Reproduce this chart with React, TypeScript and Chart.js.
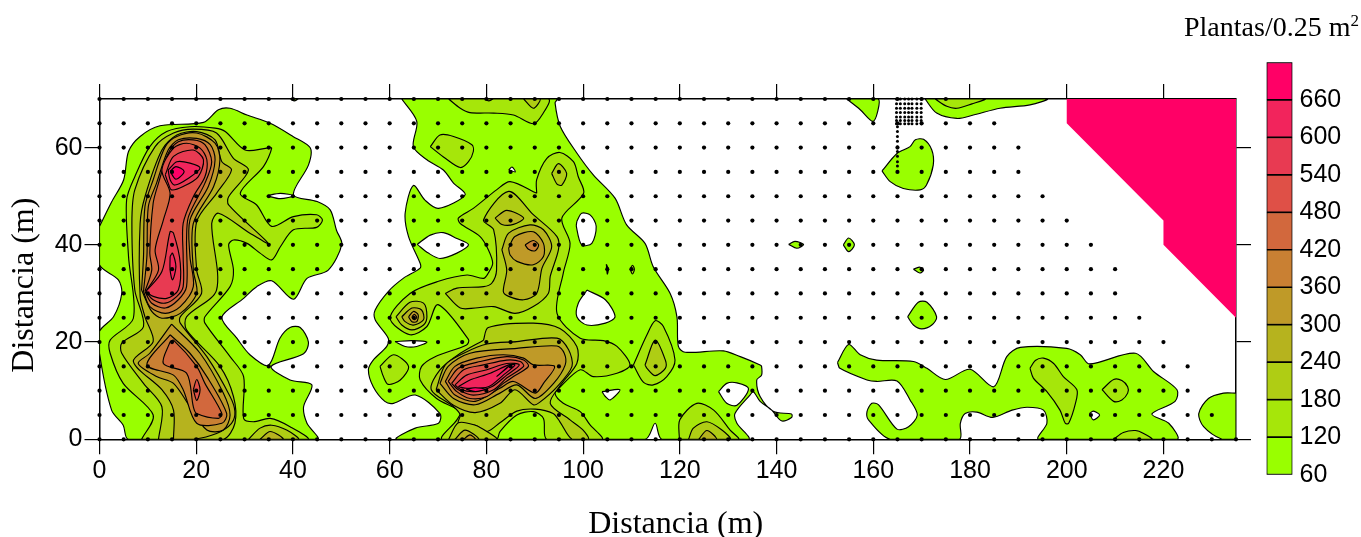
import React, { useEffect, useRef } from "react";
import { Chart, registerables } from "chart.js";

Chart.register(...registerables);

type Pt = [number, number];

const bandLevels = [60, 120, 180, 240, 300, 360, 420, 480, 540, 600, 660, 720];
const bandColors = ["#99FF00", "#A6E60A", "#AFCD14", "#B6B31E", "#BF9A28", "#C98033", "#D2683D", "#DF5047", "#E83A52", "#F2245C", "#FF0066"];
const xAxisTitle = "  Distancia (m)";
const yAxisTitle = "Distancia (m)    ";
const legendTitle = "Plantas/0.25 m";
const xTicks = [0, 20, 40, 60, 80, 100, 120, 140, 160, 180, 200, 220];
const yTicks = [0, 20, 40, 60];

const gridRows = [0, 5, 10, 15, 20, 25, 30, 35, 40, 45, 50, 55, 60, 65, 70];
const gridRowLastX = [235, 230, 225, 225, 220, 215, 210, 210, 205, 200, 195, 190, 190, 185, 175];
const denseXs = [164.8, 165.6, 166.5, 167.3, 168, 169, 169.9];
const denseYs = [70, 69, 68.1, 67.2, 66.3, 65.6, 64.9];
const denseColumnYs = [64.3, 63.3, 62.3, 61.3, 60.2, 59.2, 58.2, 57.1, 56.2];

const band60: Pt[][] = [
  [[0,43.8],[2.5,48.8],[5,53.4],[6,59.2],[8.4,62.3],[12.5,64.5],[21.5,65.2],[24.6,67.8],[27,68.1],[30.5,66.7],[35.3,65],[40,62.3],[43.6,59.9],[43.2,56.4],[40.1,50.3],[45,48.9],[47.7,47.2],[49,43],[50.1,40.1],[47.3,34.8],[42.9,33.1],[40.1,28.8],[35.6,32.6],[32.5,31.4],[29.8,29],[25.3,25.1],[28.4,20.8],[31.1,17.4],[34.9,15.2],[37.3,20.8],[39.4,23],[41.5,23],[43.2,20],[42.2,17.6],[35.5,15],[39.4,12.2],[43.9,11.2],[42.2,6.7],[42.9,3.3],[45,0],[6,0],[4.9,2.9],[2.5,6],[0,17.7],[0,22.2],[2.9,25.2],[4.6,30],[3.9,32.8],[0,35.9]],
  [[39.5,70],[40.3,69.6],[41,70]],
  [[62.5,70],[65.6,65.4],[64.9,60.2],[67.7,57.5],[71.1,55.4],[73.2,52.7],[75.6,50.3],[70.1,47.5],[67.3,49.2],[64.9,52.2],[63.2,46.5],[63.9,41.7],[66.3,36.2],[66.3,35.2],[62.8,33.1],[59.7,30.4],[57,26.6],[57,24.6],[59.7,20.8],[59.4,19.1],[56.6,16.3],[55.6,14.3],[56.6,10.8],[59,7.8],[60.8,7.4],[65.3,9.1],[70.4,5.3],[70.1,3.3],[65.3,2.3],[61.5,0],[112.8,0],[114.9,3.3],[116.3,0],[134.2,0],[131.8,3.3],[131.4,5.3],[134.5,9.1],[135.2,9.8],[136.6,7.8],[139,6],[141,3.8],[143.1,4.5],[143.1,5.2],[139.4,5.7],[136.6,8.8],[135.9,12.2],[136.9,13.2],[136.9,15],[136.6,15.3],[132.5,17],[129,18.2],[121.1,17.9],[119.7,19.1],[119.4,25.2],[118,30],[114.5,35.5],[112.8,40.3],[109,44.1],[106.6,49.6],[102.1,54.4],[98.7,58.9],[95.3,64.3],[94.2,69.2],[94.6,70]],
  [[154.5,70],[157.3,67.8],[159.9,65.4],[160.9,67.4],[161,70]],
  [[161.8,55.2],[164.9,58.8],[167.6,60.2],[168.7,61.6],[170.4,61.7],[172.1,59.5],[172.4,56.4],[171,52.3],[169.7,51.3],[166.2,51.6],[163.5,53]],
  [[170.7,70],[173.1,67.1],[177.3,66],[180.7,66.7],[186.2,68.1],[192.4,68.8],[195.9,70]],
  [[142.5,40.1],[143.8,40.7],[145.6,40.1],[144.2,39.3]],
  [[153.8,40],[154.9,41.4],[156.1,40],[154.9,38.6]],
  [[168.3,35],[169.7,35.4],[170.4,34.8],[169.6,34.2]],
  [[167.1,25.2],[169.3,28.2],[171.1,28.2],[173.1,25.2],[172.1,23.5],[170,22.7],[168.3,23.5]],
  [[152.6,15.8],[154.9,19.5],[157.3,17.4],[160.7,16.3],[168.3,16],[171.1,14.6],[174.9,12.3],[180,14.4],[184.9,10.8],[187.6,17],[190.4,18.9],[200,18.7],[202.8,17.4],[204.7,15.5],[214.2,17.7],[218,13.9],[222.8,10.2],[222.4,7.8],[217.6,5.2],[221.1,3.3],[222.8,0],[194.2,0],[195.9,3.3],[195.2,6],[191.8,6.6],[188.7,6],[184.7,4.5],[181.4,5.6],[179,5.3],[178,3.3],[177.8,0],[163.5,0],[159,4],[158.7,5.7],[159.7,7.4],[161.1,7.1],[164.9,2.1],[167.3,2.6],[169.1,5],[167.6,8.1],[164.9,12],[160.7,11.9],[158.7,12.2],[153.1,14.6]],
  [[235,9.5],[232.4,9.5],[229.3,8.4],[227.3,5.3],[228.3,2.6],[232.1,0],[235,0]],
];

const emptyHoles: Pt[][] = [
  [[34.6,50.1],[37.4,50.6],[40.1,50.1],[37.4,49.5]],
  [[84.6,55.4],[85.3,56],[86,55]],
  [[98.7,44.8],[99.7,46.5],[101.5,46.1],[102.7,43.8],[101.8,40.3],[99.7,40],[98.6,43.8]],
  [[65.7,40.1],[68.4,42],[71.1,42.5],[73.9,41.3],[76.3,40],[73.9,38.3],[70.4,37.2],[68,38.3]],
  [[100.8,30.7],[104.6,28.7],[106.6,25.2],[104.6,23.9],[100.8,23.5],[98.7,25.2],[99,28]],
  [[61.1,20.1],[64.6,20.3],[67.7,20],[65.6,19.1],[63.2,19.1]],
  [[103.9,9.8],[107.6,10.2],[105.6,8.1],[104.6,8.8]],
  [[128,9.8],[129.7,11.5],[131.8,11.6],[134.2,10.4],[131.8,7],[129.7,7.4]],
  [[204.7,5.3],[205.5,5.8],[206.8,5],[205.5,4]],
];

const band120: Pt[][] = [
  [[8.7,0],[11.1,5],[4.9,11.5],[2.2,17.7],[2.2,20.4],[7,24.9],[6,37.6],[5.6,49.2],[7.3,54],[10.4,60.2],[13.9,63.3],[18.7,64.3],[23.9,64],[26,63.3],[30.1,59.5],[34.6,59.9],[35.6,59.9],[33.9,56.1],[29.1,50.6],[32.5,48.2],[35.6,43.8],[40.1,45.8],[44.9,46.2],[46.1,45.1],[44.9,43.6],[40.1,43.1],[37.4,39.6],[35.6,36.9],[33.2,38.3],[30.5,40.3],[27.7,41],[26.7,40],[27.7,34.8],[27,31.4],[21.8,25.2],[21.8,23.9],[27,17],[29.8,12.9],[29.8,4.3],[31.8,3.6],[35.3,4.3],[39.4,2.6],[43,0]],
  [[72.2,70],[74.6,68.1],[76.6,67.2],[81.5,67.1],[85.6,66.7],[89.7,64.9],[91.5,66.7],[92.8,70]],
  [[68.4,60.2],[70.4,62.6],[73.2,62.3],[77,60.6],[77.3,59.2],[76.3,57.1],[74.6,55.9],[71.5,57.8]],
  [[90.4,50.6],[84.9,53],[82.1,51.3],[77.3,47.5],[74.2,45.5],[74.6,44.4],[78.7,41.7],[80.4,39],[81.3,36.2],[80.4,34.2],[79.4,33.1],[76,33.8],[70.1,32.5],[64.2,30],[60.1,24.9],[64.2,21.5],[67.7,23.2],[70,27.7],[76.3,20.5],[75.9,19.4],[69.4,17],[66.6,15],[66.3,12.2],[69.7,8.4],[74.6,5.7],[73.9,4],[70.8,0],[82.1,0],[82.8,1.6],[86.3,5],[89.7,5.7],[91.8,4.3],[92.5,0],[103.9,0],[101.4,3],[99.4,5.7],[95.9,7.4],[94.2,9.4],[95.2,10.7],[99.4,14.3],[102.1,12.9],[107,13.6],[109.7,15.3],[107,19.1],[104.2,20.3],[99.4,20.8],[94.6,25.9],[95.9,34.2],[97.3,40.3],[95.6,45.5],[100.1,50.6],[99,54],[98,57.1],[95.2,59],[92.5,57.8],[90.4,53.4]],
  [[58,15],[60.8,17.4],[63.9,15],[62.2,12.2],[59.7,11.3],[58.7,12.9]],
  [[110.4,15.3],[113.2,21.5],[114.9,24.4],[116.6,23.2],[119,16.3],[117.3,12.9],[114.5,11.2],[112.5,11.7]],
  [[119.9,0],[120,4],[123.5,7.4],[127,6],[130.4,1.9],[132.1,0]],
  [[172.8,70],[175.2,68.5],[177.3,68.1],[180.4,69],[183.1,70]],
  [[192.4,14.6],[193.5,16.2],[195.2,16.7],[197.3,15.6],[199.3,12.9],[202.1,10.2],[201.8,7.4],[200.4,3.3],[199.7,3.3],[198.6,6],[195.9,9.8],[193.1,12.6]],
  [[207.3,10.2],[209.7,12.3],[211.4,12.1],[212.6,10.8],[212.6,9.5],[211.4,8.1],[209.7,7.8]],
  [[209.7,0],[211.7,1.4],[214.2,1.8],[215.9,1.2],[217.6,0]],
  [[104.8,36],[105.2,35],[105,34]],
  [[109.7,35],[110.2,35.8],[110.6,35],[110.2,34]],
];

const band180: Pt[][] = [
  [[12.2,0],[12.9,6.7],[9.1,11.5],[4.6,17.7],[4.6,19.8],[9.1,23.2],[7.3,30.7],[6.7,44.4],[7.3,51.3],[11.5,60.2],[15.3,63],[19.4,63.8],[24.2,63],[27.7,57.8],[30.8,55.4],[26.7,49.9],[26.7,48.2],[34.9,40.3],[31.1,42.4],[24.6,46.5],[23.2,44.4],[24.2,30.7],[18,25.2],[18,22.5],[24.9,15],[27.7,8.8],[28,3.3],[25.6,0]],
  [[30.8,0],[33.2,2.3],[35.6,2.9],[38.7,1.9],[41.1,0]],
  [[87.7,70],[89.7,68.1],[91.1,70]],
  [[79.8,70],[80.5,69.6],[81.3,70]],
  [[71.5,30],[73.9,31.1],[79.4,31.4],[81.1,32.1],[82.1,34.8],[81.5,43.1],[79.4,45.1],[84.6,51],[89.7,46.2],[94.6,41.7],[94.9,39],[93.2,33.5],[92.8,30],[89.7,27.3],[85.9,25.9],[81.5,27.3],[77.7,27],[74.6,27]],
  [[93.5,54.7],[94.9,56.7],[96.6,54.7],[95.6,52.3],[94.6,52.5]],
  [[61.3,25.2],[64.2,28.2],[67,28],[67.7,25.2],[67,23.5],[64.6,22.5],[62.5,23.5]],
  [[112.8,15.3],[114.9,20.4],[117,16.3],[117,14.6],[114.9,13.1],[113.2,14.6]],
  [[121.8,0],[122.8,2.3],[125.6,3.6],[128.7,1.9],[130.4,0]],
  [[79.4,20.4],[80.4,23],[89.7,23.9],[95.2,22.8],[98.7,19.1],[98.7,15.6],[95.6,11.5],[93.2,7.4],[97.3,4],[100,1.9],[101.1,0],[97.7,0],[95.2,3.6],[93.8,5.3],[90.1,6.2],[86.3,5.8],[82.8,3.4],[80.1,1.6],[77.7,2.9],[74.2,3.4],[74.6,5],[73.2,6.7],[68.6,10.2],[70.4,14.3],[74.6,17.7]],
  [[72.2,0],[74.2,3.4],[77.7,2.9],[80.1,1.6],[82.1,0]],
];

const band240: Pt[][] = [
  [[15.3,0],[15.3,6],[12.9,10.2],[7,16],[11.1,20.1],[9.4,25.2],[8.4,29.4],[8.4,44.4],[9.4,49.9],[12.9,59.5],[16,62.6],[20.1,63.3],[23.9,61.6],[25.3,57.1],[27.3,55.4],[24.2,50.6],[20.1,44.8],[20.1,34.8],[21.1,30],[16.7,25.2],[16.7,23.9],[22.2,17],[27,8.8],[28,5.7],[27.3,3.3],[24.2,1.2],[19.4,0]],
  [[33.2,0],[35.3,1.6],[38,0]],
  [[81.8,45.5],[84.2,47.1],[87.7,45.5],[85.6,44.2],[83.2,44.2]],
  [[83.2,39],[84.6,42.4],[89,44.1],[91.8,43.1],[93.5,39.6],[91.5,35.2],[90.4,30],[87.7,28.7],[84.6,29.4],[83.5,30.4],[84.2,34.8]],
  [[62.5,25.2],[64.6,27],[66.6,26.6],[67,24.6],[64.9,23.5],[63.2,24.2]],
  [[69.6,10.2],[71.5,15.3],[75.3,17.7],[80.1,19.6],[86.3,20.1],[94.6,20.8],[97,18.4],[97.7,15],[94.6,10.8],[91,7.6],[89.7,7.1],[85.9,10.2],[82.8,7.4],[77.7,5.5],[73.2,7]],
  [[73.5,0],[75.6,1.9],[78.4,0]],
  [[123.9,0],[125.6,1.8],[127.6,0]],
];

const band300: Pt[][] = [
  [[14.9,23.7],[10.4,17.7],[8,15.6],[11.8,12.9],[15.3,11.5],[18.7,6.7],[22.2,1.9],[25.6,1.9],[27,5],[25.6,9.5],[20.8,17.7]],
  [[8.7,30.7],[10.8,26.3],[12.9,24.9],[16.7,25.9],[20.1,30],[19.4,34.8],[19.4,44.4],[23.6,52],[24.9,57.5],[23.9,60.9],[20.1,63],[16,62.3],[13.6,60.2],[11.1,53.4],[9.4,47.9],[9.1,37.6]],
  [[84.6,39.3],[85.9,41.7],[89.7,42.7],[91.8,40.3],[91.8,37.6],[89.7,35.9],[86.3,36.6],[84.9,37.9]],
  [[63.9,25.2],[64.9,26.3],[65.9,25.6],[65.6,24.2],[64.6,24.2]],
  [[70.4,11.5],[72.1,15],[76.6,17.7],[86.3,18.7],[94.6,19.2],[96.1,17.7],[96.3,15.3],[93.9,11.5],[90.1,8.4],[86.3,11.2],[82.8,9.5],[77.7,7.1],[73.2,8.4]],
  [[75.3,0],[76.6,0.9],[77.7,0]],
];

const band360: Pt[][] = [
  [[14.6,21.5],[9.8,15.3],[15.3,13.2],[17.3,10.2],[20.1,3.3],[25.3,3.3],[26.3,5.3],[22.2,12.9],[18.7,17.7]],
  [[9.1,30.4],[10.4,27.3],[13.6,25.9],[16.7,27.3],[19.4,31.4],[18.7,37.6],[18.7,45.1],[22.5,52],[23.9,57.5],[22.9,60.6],[20.1,61.9],[16.3,61.6],[14.2,59.5],[11.8,52.7],[10.1,47.9],[9.8,37.6]],
  [[88,40],[89.7,40.9],[90.8,40],[90.1,38.8],[88.7,39.1]],
  [[64.6,25.2],[65.1,25.7],[65.6,25.1],[65.1,24.6]],
  [[71.5,11.9],[73.5,15],[78,16.7],[83.5,17.4],[87.7,16.7],[89.7,15.3],[94.1,15],[91.8,11.5],[90.1,9.5],[85.6,11.9],[82.8,10.5],[77.7,7.8],[73.5,9.1]],
];

const band420: Pt[][] = [
  [[14.6,20.1],[13.2,15.6],[18,13.6],[19.4,6.7],[20.1,5.3],[24.6,4.3],[25.3,5.3],[21.8,11.5],[20.1,15],[15.3,20.4]],
  [[9.4,30.4],[10.8,28],[13.6,27],[16.3,28.7],[18,31.4],[18,41],[18.4,45.8],[21.8,52.7],[23.2,57.1],[21.8,60.6],[19.4,61.6],[16.3,61.2],[14.2,58.8],[12.2,52.7],[11.1,48.6],[10.4,38.3],[10.8,34.8]],
  [[72.1,11.9],[74.2,14.6],[78.7,16],[84.2,17],[87.7,16.3],[88.7,15],[85.6,12.9],[83.5,11.5],[80.1,8.8],[76.6,8.4],[73.9,9.8]],
];

const band480: Pt[][] = [
  [[19.4,10.2],[20.1,12.3],[20.8,10.2],[20.1,8]],
  [[9.6,30.4],[11.1,28.7],[13.6,28],[16,29.4],[17.3,31.4],[17.3,37.6],[17.3,44.4],[19.4,49.9],[21.8,54],[22.2,57.5],[20.8,59.9],[18,60.9],[15.3,59.9],[12.9,55.4],[14.6,50.6],[13.2,45.1],[11.5,39],[12.2,34.8]],
  [[72.8,11.5],[75.3,14.3],[79.4,15.3],[84.2,16.3],[87,16],[87.7,15],[84.2,12.6],[81.5,10.2],[77.3,9.1],[74.2,10.2]],
];

const band540: Pt[][] = [
  [[13.6,54.4],[15.3,58.2],[19.4,59.5],[21.5,57.5],[20.4,54],[17.3,52],[14.9,51.3],[14.2,52.7]],
  [[9.6,30.4],[12.9,34.5],[14.6,42.7],[15.3,42.4],[16.7,36.2],[16.3,30.7],[13.9,29],[11.1,29.4]],
  [[73.5,11.2],[75.9,13.2],[80.1,14.3],[84.2,15.6],[86.8,15.3],[84.2,13.2],[81.1,10.8],[77.3,9.8],[74.6,10.3]],
];

const band600: Pt[][] = [
  [[14.2,55.4],[16,57.1],[18.7,56.8],[20.8,55.8],[18.4,53.7],[15.6,52.3],[14.6,53.4]],
  [[14.6,37.6],[15.1,38.3],[15.8,35.5],[15.1,32.8],[14.6,34.8]],
  [[74.2,10.8],[76.6,12.2],[80.8,13.6],[84.6,15.3],[85.9,15.3],[83.5,13.2],[80.4,10.8],[76,10.5]],
];

const band660: Pt[][] = [
  [[14.6,55.1],[15.8,56.1],[17.5,55.1],[15.8,53.5]],
  [[75.8,10.3],[77.7,10.6],[79.7,10.3],[77.7,9.8]],
  [[82.1,12.9],[84.9,15.3],[84.2,14.6]],
];

const blankedCorner: Pt[] = [[200,70],[235,70],[235,25],[220,40],[220,45],[200,65]];

const levelBands = [band60, emptyHoles, band120, band180, band240, band300, band360, band420, band480, band540, band600, band660];
const levelFills = ["#99FF00", "#FFFFFF", ...bandColors.slice(1)];

const SERIF = '"Liberation Serif"';
const SANS = '"Liberation Sans"';

function polygonDataset(pts: Pt[], fill: string, stroke: boolean, tension: number) {
  const closed = [...pts, pts[0]];
  return {
    type: "line" as const,
    data: closed.map(([x, y]) => ({ x, y })),
    showLine: true,
    fill: "shape",
    backgroundColor: fill,
    borderColor: stroke ? "#000" : fill,
    borderWidth: stroke ? 1.15 : 0,
    tension,
    pointRadius: 0,
    pointHoverRadius: 0,
  };
}

export default function App() {
  const mainRef = useRef<HTMLCanvasElement>(null);
  const barRef = useRef<HTMLCanvasElement>(null);

  useEffect(() => {
    const polys: any[] = [];
    levelBands.forEach((band, i) => band.forEach((p) => polys.push(polygonDataset(p, levelFills[i], true, 0.3))));
    polys.push(polygonDataset(blankedCorner, "#FF0066", false, 0));

    const gridDots: { x: number; y: number }[] = [];
    gridRows.forEach((y, r) => {
      for (let x = 0; x <= gridRowLastX[r]; x += 5) gridDots.push({ x, y });
    });
    const denseDots: { x: number; y: number }[] = [];
    denseYs.forEach((y) => denseXs.forEach((x) => denseDots.push({ x, y })));
    denseColumnYs.forEach((y) => denseDots.push({ x: 165, y }));

    const n = polys.length;
    polys.forEach((d, i) => (d.order = n + 5 - i));

    const keepTicks = (values: number[]) => (scale: any) => {
      scale.ticks = values.map((value) => ({ value }));
    };
    const line = { color: "#000", width: 1.5 };
    const grid = { drawOnChartArea: false, color: "#000", lineWidth: 1.2, tickLength: 15, tickWidth: 1.2, tickColor: "#000" };

    const main = new Chart(mainRef.current!, {
      type: "scatter",
      data: {
        datasets: [
          ...polys,
          { data: gridDots, backgroundColor: "#000", borderWidth: 0, pointRadius: 2.1, clip: false, order: 1 },
          { data: denseDots, backgroundColor: "#000", borderWidth: 0, pointRadius: 1.5, clip: false, order: 0 },
        ],
      } as any,
      options: {
        animation: false,
        responsive: false,
        devicePixelRatio: 1,
        layout: { padding: { left: 0, top: 84, right: 1361 - 1251, bottom: 0 } },
        plugins: { legend: { display: false }, tooltip: { enabled: false } },
        scales: {
          x: {
            type: "linear", min: 0, max: 235, position: "bottom",
            afterBuildTicks: keepTicks(xTicks),
            afterFit: (s: any) => { s.height = 97.7; },
            grid, border: line,
            ticks: { color: "#000", font: { family: SANS, size: 25 }, padding: 2, maxRotation: 0, autoSkip: false },
            title: { display: true, text: xAxisTitle, color: "#000", font: { family: SERIF, size: 32, lineHeight: 0.8 }, padding: { top: 0, bottom: 0 } },
          },
          y: {
            type: "linear", min: 0, max: 70, position: "left",
            afterBuildTicks: keepTicks(yTicks),
            afterFit: (s: any) => { s.width = 99.5; },
            grid, border: line,
            ticks: { color: "#000", font: { family: SANS, size: 25 }, padding: 2, autoSkip: false },
            title: { display: true, text: yAxisTitle, color: "#000", font: { family: SERIF, size: 32 }, padding: { top: 5, bottom: 0 } },
          },
          xTop: {
            type: "linear", min: 0, max: 235, position: "top",
            afterBuildTicks: keepTicks(xTicks),
            afterFit: (s: any) => { s.height = 15; },
            grid, border: line, ticks: { display: false },
          },
          yRight: {
            type: "linear", min: 0, max: 70, position: "right",
            afterBuildTicks: keepTicks(yTicks),
            afterFit: (s: any) => { s.width = 15; },
            grid, border: line, ticks: { display: false },
          },
        },
      } as any,
    });

    const bar = new Chart(barRef.current!, {
      type: "bar",
      data: {
        labels: [""],
        datasets: bandColors.map((c, i) => ({
          data: [[bandLevels[i], bandLevels[i + 1]]],
          backgroundColor: c,
          borderColor: "#000",
          borderWidth: 1.2,
          borderSkipped: false,
          barPercentage: 1,
          categoryPercentage: 1,
          grouped: false,
        })),
      } as any,
      options: {
        animation: false,
        responsive: false,
        devicePixelRatio: 1,
        layout: { padding: { left: 11.5, top: 32.3, right: 0, bottom: 25.3 } },
        plugins: { legend: { display: false }, tooltip: { enabled: false } },
        scales: {
          x: { display: false },
          y: {
            type: "linear", min: 60, max: 720, position: "right",
            afterBuildTicks: keepTicks(bandLevels.slice(0, -1)),
            afterFit: (s: any) => { s.width = 68.5; },
            grid: { display: false, drawTicks: false, tickLength: 0 },
            border: { display: false },
            ticks: { color: "#000", font: { family: SANS, size: 25 }, padding: 7, autoSkip: false },
          },
        },
      } as any,
    });

    return () => { main.destroy(); bar.destroy(); };
  }, []);

  return (
    <div style={{ position: "fixed", left: 0, top: 0, width: 1361, height: 537, background: "#fff", overflow: "hidden" }}>
      <canvas ref={mainRef} width={1361} height={537} style={{ position: "absolute", left: 0, top: 0, width: 1361, height: 537 }} />
      <canvas ref={barRef} width={106} height={470} style={{ position: "absolute", left: 1255, top: 30, width: 106, height: 470 }} />
      <div style={{ position: "absolute", left: 1184, top: 10, fontFamily: SERIF, fontSize: 28, lineHeight: "34px", color: "#000", whiteSpace: "nowrap" }}>
        {legendTitle}<sup style={{ fontSize: 17, lineHeight: 0 }}>2</sup>
      </div>
    </div>
  );
}
